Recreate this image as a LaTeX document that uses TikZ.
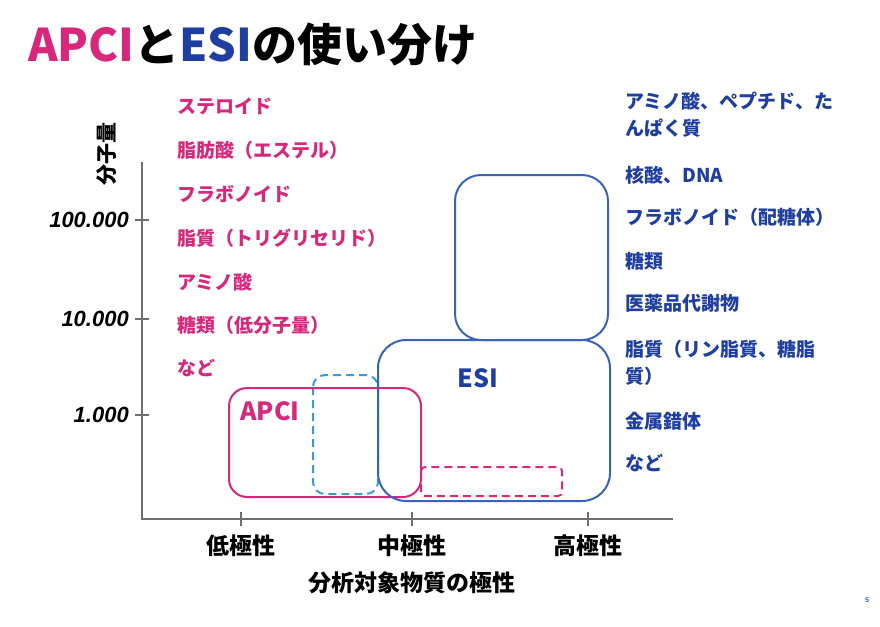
\documentclass[tikz,border=0pt]{standalone}
\usepackage{fontspec}
\setmainfont{Noto Sans CJK JP}
\newfontfamily\numfont{Liberation Sans}
\usetikzlibrary{positioning}
\definecolor{apcipink}{RGB}{216,40,124}
\definecolor{esiblue}{RGB}{58,99,184}
\definecolor{esitext}{RGB}{30,63,160}
\definecolor{lightdash}{RGB}{60,154,216}
\definecolor{axisgray}{RGB}{110,110,110}
\tikzset{
  pinkitem/.style={anchor=west,inner sep=0pt,text=apcipink,font=\fontsize{19}{27}\selectfont\bfseries},
  blueitem/.style={anchor=west,inner sep=0pt,text=esitext,align=left,font=\fontsize{19}{27}\selectfont\bfseries},
  ticklbl/.style={inner sep=0pt,font=\numfont\fontsize{22}{22}\selectfont\bfseries\itshape},
  axlbl/.style={inner sep=0pt,font=\fontsize{23}{23}\selectfont\bfseries},
  axisline/.style={axisgray,line width=2pt},
  apciline/.style={apcipink,line width=2pt,rounded corners=18pt},
  esiline/.style={esiblue,line width=2pt,rounded corners=26pt}
}

\begin{document}
\begin{tikzpicture}[x=1pt,y=-1pt]
    \useasboundingbox[fill=white] (0,0) rectangle (880,626);
    % title
    \node (title) [anchor=west,inner sep=0pt,font=\fontsize{45}{45}\selectfont\bfseries] at (28,45)
        {\textcolor{apcipink}{APCI}と\textcolor{esitext}{ESI}の使い分け};
    % axes
    \coordinate (ytop) at (142,162);
    \coordinate (orig) at (142,519);
    \coordinate (xend) at (673,519);
    \draw [axisline] (ytop) -- (orig) -- (xend);
    \coordinate (t100k) at (142,220);
    \coordinate (t10k) at (142,319);
    \coordinate (t1k) at (142,415);
    \draw [axisline] ([xshift=-7pt]t100k) -- ([xshift=7pt]t100k);
    \draw [axisline] ([xshift=-7pt]t10k) -- ([xshift=7pt]t10k);
    \draw [axisline] ([xshift=-7pt]t1k) -- ([xshift=7pt]t1k);
    \node (l100k) [ticklbl,left=13pt of t100k] {100.000};
    \node (l10k) [ticklbl,left=13pt of t10k] {10.000};
    \node (l1k) [ticklbl,left=13pt of t1k] {1.000};
    \coordinate (tlow) at (241,519);
    \coordinate (tmid) at (412,519);
    \coordinate (thigh) at (588,519);
    \draw [axisline] ([yshift=-7pt]tlow) -- ([yshift=7pt]tlow);
    \draw [axisline] ([yshift=-7pt]tmid) -- ([yshift=7pt]tmid);
    \draw [axisline] ([yshift=-7pt]thigh) -- ([yshift=7pt]thigh);
    \node (llow) [axlbl,below=16pt of tlow] {低極性};
    \node (lmid) [axlbl,below=16pt of tmid] {中極性};
    \node (lhigh) [axlbl,below=16pt of thigh] {高極性};
    \node (xtitle) [axlbl,below=14pt of lmid] {分析対象物質の極性};
    \node (ytitle) [inner sep=0pt,rotate=90,font=\fontsize{21}{21}\selectfont\bfseries] at (107,154) {分子量};
    % ranges
    \draw [lightdash,line width=2pt,dash pattern=on 8pt off 5pt,rounded corners=12pt] (313,375) rectangle (378,494);
    \draw [apcipink,line width=2pt,dash pattern=on 8pt off 5pt,rounded corners=4pt] (421,467) rectangle (562,496);
    \draw [apciline] (229,388) rectangle (421,497);
    \draw [esiline] (455,175) rectangle (608,340);
    \draw [esiline,rounded corners=28pt] (378,340) rectangle (610,501);
    \node (apci) [inner sep=0pt,text=apcipink,font=\fontsize{25}{25}\selectfont\bfseries] at (270,411) {APCI};
    \node (esi) [inner sep=0pt,text=esitext,font=\fontsize{25}{25}\selectfont\bfseries] at (478,378) {ESI};
    % APCI compounds
    \node (ster) [pinkitem] at (177,106) {ステロイド};
    \node (fatty) [pinkitem] at (177,150) {脂肪酸（エステル）};
    \node (flavo) [pinkitem] at (177,194) {フラボノイド};
    \node (trig) [pinkitem] at (177,238) {脂質（トリグリセリド）};
    \node (amino) [pinkitem] at (177,282) {アミノ酸};
    \node (sugar) [pinkitem] at (177,325) {糖類（低分子量）};
    \node (etcp) [pinkitem] at (177,368) {など};
    % ESI compounds
    \node (pept) [blueitem] at (625,115) {アミノ酸、ペプチド、た\\んぱく質};
    \node (nucl) [blueitem] at (625,175) {核酸、DNA};
    \node (glyc) [blueitem] at (625,217) {フラボノイド（配糖体）};
    \node (sacc) [blueitem] at (625,261) {糖類};
    \node (metab) [blueitem] at (625,303) {医薬品代謝物};
    \node (phos) [blueitem] at (625,363) {脂質（リン脂質、糖脂\\質）};
    \node (metal) [blueitem] at (625,421) {金属錯体};
    \node (etcb) [blueitem] at (625,463) {など};
    % page
    \node (page) [inner sep=0pt,text=esiblue,font=\numfont\fontsize{7}{7}\selectfont\bfseries] at (867,600) {5};
\end{tikzpicture}
\end{document}
